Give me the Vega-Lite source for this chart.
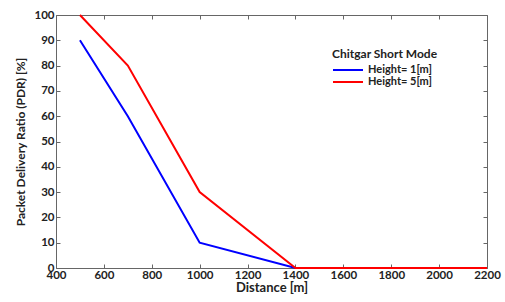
{
  "$schema": "https://vega.github.io/schema/vega-lite/v6.json",
  "width": 431,
  "height": 253,
  "autosize": {"type": "none"},
  "padding": {"left": 56, "top": 15, "right": 18, "bottom": 34},
  "background": "white",
  "config": {
    "font": "Lato",
    "view": {"stroke": "#666", "strokeWidth": 1},
    "axis": {
      "grid": false,
      "domain": false,
      "tickSize": -4,
      "tickColor": "#666",
      "labelFont": "Lato",
      "labelFontWeight": "bold",
      "labelFontSize": 11.5,
      "labelColor": "#222",
      "titleFont": "Lato",
      "titleFontWeight": "bold",
      "titleFontSize": 12,
      "titleColor": "#222"
    }
  },
  "data": {
    "values": [
      {"distance": 500, "pdr": 90, "series": "Height= 1[m]"},
      {"distance": 700, "pdr": 60, "series": "Height= 1[m]"},
      {"distance": 1000, "pdr": 10, "series": "Height= 1[m]"},
      {"distance": 1400, "pdr": 0, "series": "Height= 1[m]"},
      {"distance": 2200, "pdr": 0, "series": "Height= 1[m]"},
      {"distance": 500, "pdr": 100, "series": "Height= 5[m]"},
      {"distance": 700, "pdr": 80, "series": "Height= 5[m]"},
      {"distance": 1000, "pdr": 30, "series": "Height= 5[m]"},
      {"distance": 1400, "pdr": 0, "series": "Height= 5[m]"},
      {"distance": 2200, "pdr": 0, "series": "Height= 5[m]"}
    ]
  },
  "layer": [
    {
      "mark": {"type": "line", "strokeWidth": 2, "clip": false},
      "encoding": {
        "x": {
          "field": "distance",
          "type": "quantitative",
          "scale": {"domain": [400, 2200], "nice": false},
          "axis": {
            "values": [400, 600, 800, 1000, 1200, 1400, 1600, 1800, 2000, 2200],
            "format": "d",
            "title": "Distance [m]",
            "titleFontSize": 13,
            "labelPadding": 5,
            "titlePadding": 1,
            "labelFlush": false,
            "labelOverlap": false
          }
        },
        "y": {
          "field": "pdr",
          "type": "quantitative",
          "scale": {"domain": [0, 100], "nice": false},
          "axis": {
            "values": [0, 10, 20, 30, 40, 50, 60, 70, 80, 90, 100],
            "title": "Packet Delivery Ratio (PDR) [%]",
            "labelPadding": 6,
            "titlePadding": 6,
            "labelFlush": false,
            "labelOverlap": false
          }
        },
        "color": {
          "field": "series",
          "type": "nominal",
          "scale": {"domain": ["Height= 1[m]", "Height= 5[m]"], "range": ["#0000ff", "#ff0000"]},
          "legend": {
            "title": "Chitgar Short Mode",
            "orient": "none",
            "legendX": 276,
            "legendY": 34,
            "symbolType": "M-1,0H5",
            "symbolSize": 100,
            "symbolStrokeWidth": 2,
            "rowPadding": 1,
            "titleFont": "Lato",
            "titleFontWeight": "bold",
            "titleFontSize": 12,
            "titleColor": "#222",
            "titlePadding": 3,
            "labelFont": "Lato",
            "labelFontWeight": "bold",
            "labelFontSize": 11,
            "labelColor": "#222",
            "labelOffset": 24
          }
        }
      }
    },
    {
      "mark": {"type": "line", "opacity": 0},
      "encoding": {
        "x": {
          "field": "distance",
          "type": "quantitative",
          "axis": {
            "orient": "top",
            "values": [400, 600, 800, 1000, 1200, 1400, 1600, 1800, 2000, 2200],
            "labels": false,
            "title": null
          }
        },
        "y": {
          "field": "pdr",
          "type": "quantitative",
          "axis": {
            "orient": "right",
            "values": [0, 10, 20, 30, 40, 50, 60, 70, 80, 90, 100],
            "labels": false,
            "title": null
          }
        },
        "detail": {"field": "series"}
      }
    }
  ],
  "resolve": {"axis": {"x": "independent", "y": "independent"}}
}
